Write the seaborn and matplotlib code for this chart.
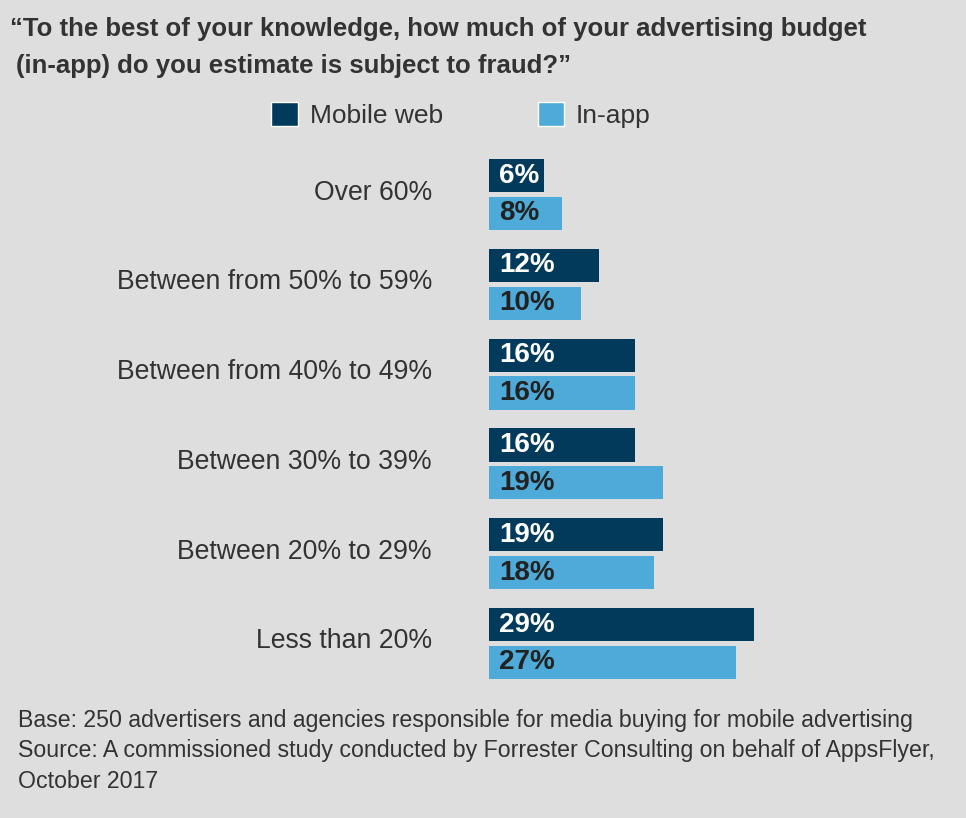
import pandas as pd
import matplotlib.pyplot as plt
import matplotlib.transforms as mtransforms
from matplotlib.patches import Patch
import seaborn as sns

# data
ranges = ["Over 60%", "Between from 50% to 59%", "Between from 40% to 49%",
          "Between 30% to 39%", "Between 20% to 29%", "Less than 20%"]
mobile_web = [6, 12, 16, 16, 19, 29]
in_app = [8, 10, 16, 19, 18, 27]
series = ["Mobile web", "In-app"]

df = pd.DataFrame({
    "range": ranges * 2,
    "pct": mobile_web + in_app,
    "type": [series[0]] * len(ranges) + [series[1]] * len(ranges),
})

bg = "#dedede"
navy = "#023a5c"
sky = "#4eaad8"

sns.set_theme(style="white")
plt.rcParams["font.family"] = ["Liberation Sans", "DejaVu Sans"]

fig = plt.figure(figsize=(9.66, 8.18), dpi=100, facecolor=bg)
ax = fig.add_axes([489 / 966, 1 - 688.4 / 818, 366 / 966, 538.8 / 818])
ax.set_facecolor(bg)

sns.barplot(data=df, y="range", x="pct", hue="type", orient="h",
            palette=[navy, sky], saturation=1, width=0.84, gap=0.12,
            linewidth=0, legend=False, ax=ax)

ax.set_xlim(0, 40)
ax.set_ylim(5.5, -0.5)
ax.set_xlabel("")
ax.set_ylabel("")
ax.set_xticks([])
sns.despine(ax=ax, left=True, bottom=True)
ax.tick_params(axis="y", length=0, pad=41, labelsize=19.2, labelcolor="#333333")
# category labels sit a little above the middle of each group
shift = mtransforms.ScaledTranslation(0, 5 / 100, fig.dpi_scale_trans)
for lbl in ax.get_yticklabels():
    lbl.set_transform(lbl.get_transform() + shift)

# value labels inside the bars
for cont, col in zip(ax.containers, ["white", "#222222"]):
    for bar in cont:
        ax.text(bar.get_x() + 1.1, bar.get_y() + bar.get_height() / 2,
                f"{bar.get_width():.0f}%", color=col, fontsize=20,
                fontweight="bold", va="center", ha="left")

# title
fig.text(10 / 966, 1 - 29 / 818,
         "\u201cTo the best of your knowledge, how much of your advertising budget",
         fontsize=18.5, fontweight="bold", color="#333333", va="center")
fig.text(16 / 966, 1 - 66 / 818,
         "(in-app) do you estimate is subject to fraud?\u201d",
         fontsize=18.5, fontweight="bold", color="#333333", va="center")

# legend
handles = [Patch(facecolor=navy, label=series[0]), Patch(facecolor=sky, label=series[1])]
fig.legend(handles=handles, loc="center", bbox_to_anchor=(461 / 966, 1 - 115 / 818),
           ncol=2, frameon=False, fontsize=19, handlelength=1.0, handleheight=1.0,
           handletextpad=0.45, columnspacing=3.6, labelcolor="#333333")

# footnote
notes = ["Base: 250 advertisers and agencies responsible for media buying for mobile advertising",
         "Source: A commissioned study conducted by Forrester Consulting on behalf of AppsFlyer,",
         "October 2017"]
for i, line in enumerate(notes):
    fig.text(18 / 966, 1 - (721 + 30 * i) / 818, line, fontsize=16.7,
             color="#333333", va="center")

fig.savefig("out.png", dpi=100, facecolor=bg)
